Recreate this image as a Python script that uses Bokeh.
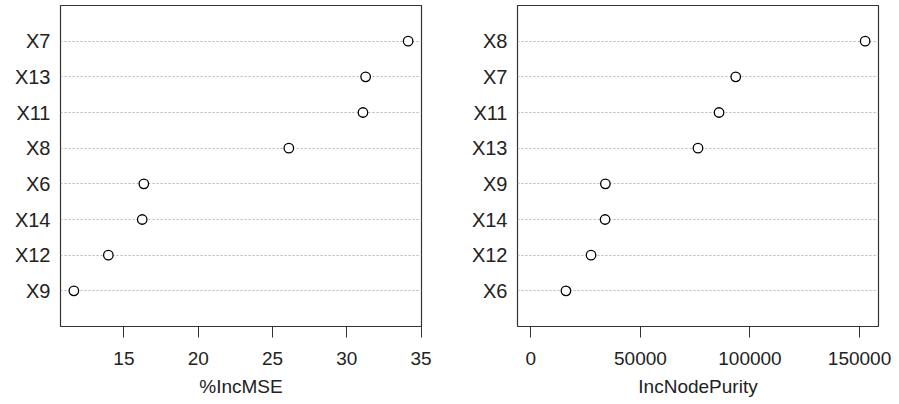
from bokeh.plotting import figure
from bokeh.models import ColumnDataSource, FixedTicker, Range1d, NumeralTickFormatter
from bokeh.layouts import row
from bokeh.embed import file_html
from bokeh.resources import INLINE

# ---- data ----
mse_labels = ["X7", "X13", "X11", "X8", "X6", "X14", "X12", "X9"]
mse_values = [34.13, 31.27, 31.09, 26.1, 16.34, 16.23, 13.95, 11.63]
mse_ticks = [15, 20, 25, 30, 35]

purity_labels = ["X8", "X7", "X11", "X13", "X9", "X14", "X12", "X6"]
purity_values = [152560, 93500, 85880, 76270, 34010, 33870, 27460, 16020]
purity_ticks = [0, 50000, 100000, 150000]

FONT = "Liberation Sans"
TXT = "#222222"


def panel(labels, values, ticks, title, xmin, width, border_left, border_right):
    n = len(labels)
    ys = list(range(n, 0, -1))
    xmax = max(values)
    pad = 0.04 * (xmax - xmin)
    x0, x1 = xmin - pad, xmax + pad
    src = ColumnDataSource(dict(x=values, y=ys, label=labels))
    p = figure(width=width, height=404, output_backend="svg", toolbar_location=None,
               x_range=Range1d(x0, x1), y_range=Range1d(0, n + 1),
               min_border_left=border_left, min_border_right=border_right,
               min_border_top=5, min_border_bottom=78)
    p.outline_line_color = "#333333"
    p.outline_line_width = 1.2
    p.xgrid.visible = False
    p.ygrid.ticker = FixedTicker(ticks=ys)
    p.ygrid.grid_line_color = "#b4b4b4"
    p.ygrid.grid_line_dash = "2 2"
    p.ygrid.grid_line_width = 1

    yax = p.yaxis[0]
    yax.ticker = FixedTicker(ticks=ys)
    yax.major_label_overrides = {y: lab for y, lab in zip(ys, labels)}
    yax.axis_line_color = None
    yax.major_tick_line_color = None
    yax.minor_tick_line_color = None
    yax.major_tick_in = 0
    yax.major_tick_out = 0
    yax.major_label_standoff = 10
    yax.major_label_text_font = FONT
    yax.major_label_text_font_size = "20px"
    yax.major_label_text_color = TXT

    ax = p.xaxis[0]
    ax.ticker = FixedTicker(ticks=ticks)
    ax.formatter = NumeralTickFormatter(format="0")
    ax.axis_line_color = None
    ax.major_tick_in = 0
    ax.major_tick_out = 11
    ax.major_tick_line_color = "#333333"
    ax.minor_tick_line_color = None
    ax.major_label_text_font = FONT
    ax.major_label_text_font_size = "19px"
    ax.major_label_text_color = TXT
    ax.major_label_standoff = 14
    ax.axis_label = title
    ax.axis_label_text_font = FONT
    ax.axis_label_text_font_size = "19px"
    ax.axis_label_text_font_style = "normal"
    ax.axis_label_text_color = TXT
    ax.axis_label_standoff = 8
    p.scatter("x", "y", source=src, marker="circle", size=9.5,
              fill_color="white", line_color="black", line_width=1.3)
    return p


p1 = panel(mse_labels, mse_values, mse_ticks, "%IncMSE", min(mse_values), 449, 60, 28)
p2 = panel(purity_labels, purity_values, purity_ticks, "IncNodePurity", 0, 450, 68, 21)

layout = row(p1, p2)
open("out.html", "w").write(file_html(layout, INLINE))
